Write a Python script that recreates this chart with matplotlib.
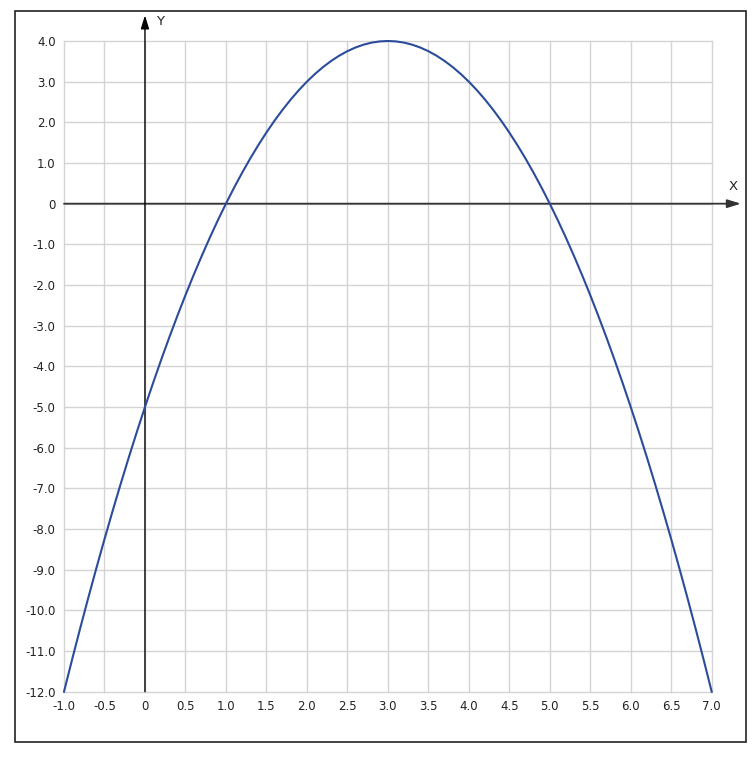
import numpy as np
import matplotlib.pyplot as plt
from matplotlib.patches import Rectangle

# curve values (step 0.1)
x_vals = [-1.0, -0.9, -0.8, -0.7, -0.6, -0.5, -0.4, -0.3, -0.2, -0.1,
          0.0, 0.1, 0.2, 0.3, 0.4, 0.5, 0.6, 0.7, 0.8, 0.9,
          1.0, 1.1, 1.2, 1.3, 1.4, 1.5, 1.6, 1.7, 1.8, 1.9,
          2.0, 2.1, 2.2, 2.3, 2.4, 2.5, 2.6, 2.7, 2.8, 2.9,
          3.0, 3.1, 3.2, 3.3, 3.4, 3.5, 3.6, 3.7, 3.8, 3.9,
          4.0, 4.1, 4.2, 4.3, 4.4, 4.5, 4.6, 4.7, 4.8, 4.9,
          5.0, 5.1, 5.2, 5.3, 5.4, 5.5, 5.6, 5.7, 5.8, 5.9,
          6.0, 6.1, 6.2, 6.3, 6.4, 6.5, 6.6, 6.7, 6.8, 6.9, 7.0]
y_vals = [-12.0, -11.21, -10.44, -9.69, -8.96, -8.25, -7.56, -6.89, -6.24, -5.61,
          -5.0, -4.41, -3.84, -3.29, -2.76, -2.25, -1.76, -1.29, -0.84, -0.41,
          0.0, 0.39, 0.76, 1.11, 1.44, 1.75, 2.04, 2.31, 2.56, 2.79,
          3.0, 3.19, 3.36, 3.51, 3.64, 3.75, 3.84, 3.91, 3.96, 3.99,
          4.0, 3.99, 3.96, 3.91, 3.84, 3.75, 3.64, 3.51, 3.36, 3.19,
          3.0, 2.79, 2.56, 2.31, 2.04, 1.75, 1.44, 1.11, 0.76, 0.39,
          0.0, -0.41, -0.84, -1.29, -1.76, -2.25, -2.76, -3.29, -3.84, -4.41,
          -5.0, -5.61, -6.24, -6.89, -7.56, -8.25, -8.96, -9.69, -10.44, -11.21, -12.0]

x_ticks = [-1.0, -0.5, 0, 0.5, 1.0, 1.5, 2.0, 2.5, 3.0, 3.5, 4.0, 4.5, 5.0, 5.5, 6.0, 6.5, 7.0]
x_labels = ['-1.0', '-0.5', '0', '0.5', '1.0', '1.5', '2.0', '2.5', '3.0', '3.5',
            '4.0', '4.5', '5.0', '5.5', '6.0', '6.5', '7.0']
y_ticks = [4, 3, 2, 1, 0, -1, -2, -3, -4, -5, -6, -7, -8, -9, -10, -11, -12]
y_labels = ['4.0', '3.0', '2.0', '1.0', '0', '-1.0', '-2.0', '-3.0', '-4.0', '-5.0',
            '-6.0', '-7.0', '-8.0', '-9.0', '-10.0', '-11.0', '-12.0']

plt.rcParams["font.family"] = "DejaVu Sans"

fig = plt.figure(figsize=(7.56, 7.57), dpi=100)
ax = fig.add_axes([64 / 756, 1 - 691.7 / 757, (711.7 - 64) / 756, (691.7 - 41) / 757])

# outer frame
fig.patches.append(Rectangle((15 / 756, 1 - 742 / 757), (746 - 15) / 756, (742 - 11) / 757,
                             transform=fig.transFigure, fill=False, edgecolor='#222222',
                             linewidth=1.2))

ax.set_xlim(-1, 7)
ax.set_ylim(-12, 4)
for s in ax.spines.values():
    s.set_visible(False)

ax.set_xticks(x_ticks)
ax.set_xticklabels(x_labels)
ax.set_yticks(y_ticks)
ax.set_yticklabels(y_labels)
ax.tick_params(length=0, labelsize=8.5, colors='#222222', pad=6)
ax.grid(True, color='#d4d4d4', linewidth=1.0)
for gl in ax.get_xgridlines() + ax.get_ygridlines():
    gl.set_clip_on(False)
ax.set_axisbelow(True)

# axes with arrows
ax.annotate('', xy=(7.36, 0), xytext=(-1, 0), xycoords='data',
            arrowprops=dict(arrowstyle='-|>,head_length=0.8,head_width=0.25', color='#333333',
                            lw=1.3, shrinkA=0, shrinkB=0), annotation_clip=False)
ax.annotate('', xy=(0, 4.63), xytext=(0, -12), xycoords='data',
            arrowprops=dict(arrowstyle='-|>,head_length=0.8,head_width=0.25', color='black',
                            lw=1.0, shrinkA=0, shrinkB=0), annotation_clip=False)
ax.text(7.26, 0.27, 'X', fontsize=9.5, color='#222222', ha='center', va='bottom')
ax.text(0.19, 4.33, 'Y', fontsize=9.5, color='#222222', ha='center', va='bottom')

ax.plot(x_vals, y_vals, color='#2b4c9b', linewidth=1.5, zorder=3, clip_on=False)

fig.savefig('out.png', dpi=100)
